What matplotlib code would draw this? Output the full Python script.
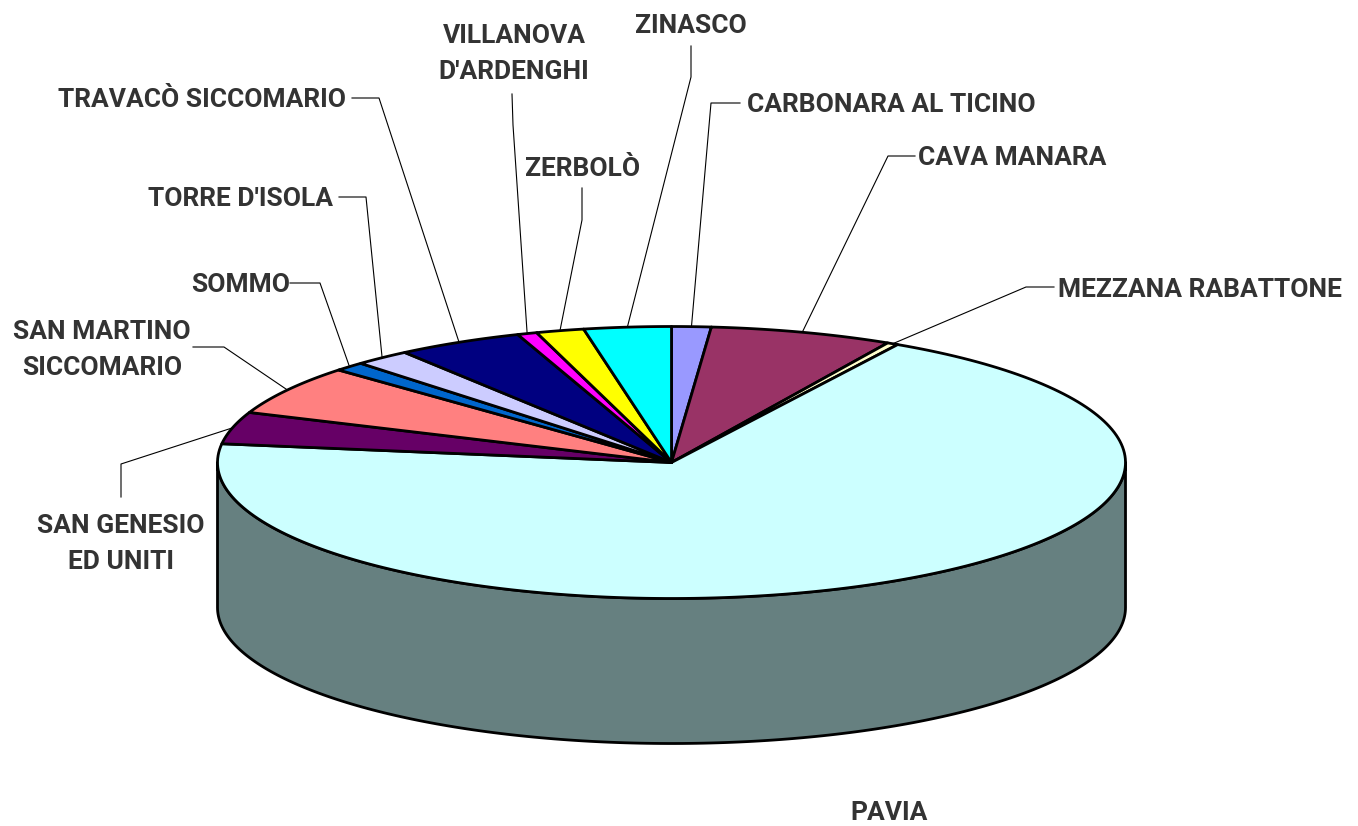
import numpy as np
import matplotlib
matplotlib.use("Agg")
import matplotlib.pyplot as plt

names = ["CARBONARA AL TICINO", "CAVA MANARA", "MEZZANA RABATTONE", "PAVIA",
         "SAN GENESIO\nED UNITI", "SAN MARTINO\nSICCOMARIO", "SOMMO", "TORRE D'ISOLA",
         "TRAVACÒ SICCOMARIO", "VILLANOVA\nD'ARDENGHI", "ZERBOLÒ", "ZINASCO"]
shares = [1.4, 6.5, 0.4, 68.9, 3.8, 5.9, 1.1, 2.0, 4.5, 0.7, 1.7, 3.1]
colors = ["#9999FF", "#993366", "#FFFFCC", "#CCFFFF", "#660066", "#FF8080",
          "#0066CC", "#CCCCFF", "#000080", "#FF00FF", "#FFFF00", "#00FFFF"]

# layout, in pixels of the picture
cx, cy, rx, ry, depth = 671.5, 462.5, 454, 136, 145
label_pos = [(891, 105), (1012, 158), (1200, 290), (889, 813), (121, 544), (102, 350),
             (241, 285), (240, 199), (202, 100), (514, 54), (583, 169), (691, 26)]
# leader: start next to the label, then the elbow; the end is the middle of the slice rim
leaders = [((740, 103), (711, 103)), ((915, 156), (888, 156)), ((1054, 287), (1026, 287)), None,
           ((121, 497), (121, 464)), ((193, 347), (224, 347)), ((290, 283), (320, 283)),
           ((339, 197), (366, 197)), ((352, 98), (379, 98)), ((512, 94), (513, 125)),
           ((582, 188), (582, 220)), ((691, 46), (691, 77))]


def rim(deg):
    t = np.radians(deg)
    return cx + rx * np.sin(t), cy - ry * np.cos(t)


fig = plt.figure(figsize=(13.58, 8.26), dpi=100)
ax = fig.add_axes([0, 0, 1, 1])
ax.set_xlim(0, 1358)
ax.set_ylim(826, 0)
ax.axis("off")

edges = np.concatenate([[0], np.cumsum(shares)]) / sum(shares) * 360

# side wall, only the front half shows
for i in range(len(shares)):
    a, b = max(edges[i], 90), min(edges[i + 1], 270)
    if a >= b:
        continue
    t = np.linspace(a, b, 200)
    x, y = rim(t)
    xs = np.concatenate([x, x[::-1]])
    ys = np.concatenate([y, y[::-1] + depth])
    col = np.array(matplotlib.colors.to_rgb(colors[i])) * 0.5
    ax.fill(xs, ys, facecolor=col, edgecolor="black", lw=2, joinstyle="round", zorder=1)

for i in range(len(shares)):
    t = np.linspace(edges[i], edges[i + 1], 200)
    x, y = rim(t)
    ax.fill(np.r_[cx, x], np.r_[cy, y], facecolor=colors[i], edgecolor="black", lw=2,
            joinstyle="round", zorder=2)

for i, name in enumerate(names):
    tx, ty = label_pos[i]
    ax.text(tx, ty, name, ha="center", va="center", family="Roboto", weight="bold", fontsize=19,
            color="#333333", linespacing=1.62, zorder=4)
    if leaders[i] is None:
        continue
    ex, ey = rim((edges[i] + edges[i + 1]) / 2)
    p0, p1 = leaders[i]
    ax.plot([p0[0], p1[0], ex], [p0[1], p1[1], ey], color="black", lw=0.8, zorder=3)

fig.savefig("out.png", dpi=100, facecolor="white")
